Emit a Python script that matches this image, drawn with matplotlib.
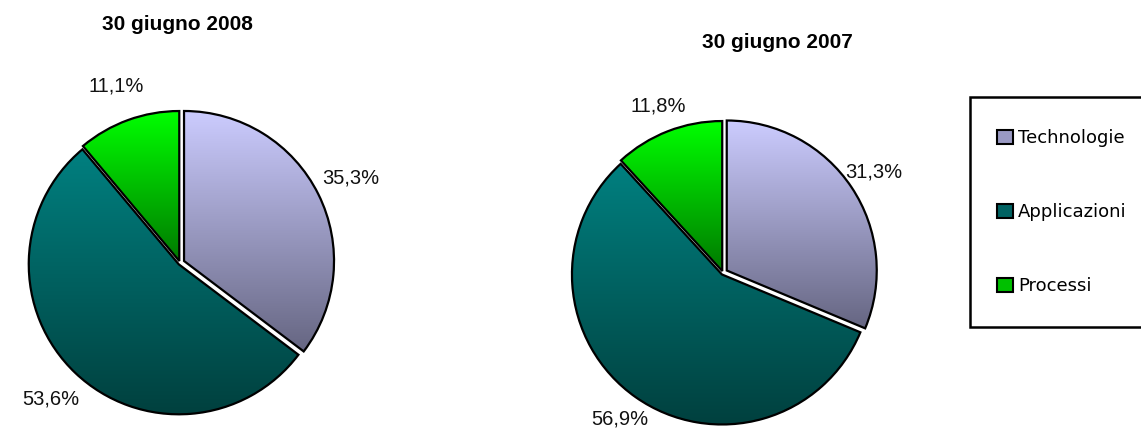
import numpy as np
import matplotlib
matplotlib.use("Agg")
import matplotlib.pyplot as plt
from matplotlib.colors import LinearSegmentedColormap
from matplotlib.patches import Patch, Rectangle

categories = ["Technologie", "Applicazioni", "Processi"]
values_2008 = [35.3, 53.6, 11.1]
values_2007 = [31.3, 56.9, 11.8]
titles = ["30 giugno 2008", "30 giugno 2007"]

# top / bottom colours of each slice gradient
top_colors = ["#ccccff", "#008080", "#00ff00"]
bottom_colors = ["#666682", "#00403e", "#007a00"]
legend_colors = ["#9a9ac4", "#006262", "#00c000"]

W, H = 1141, 430
plt.rcParams["font.family"] = ["Liberation Sans", "DejaVu Sans"]


def fmt(p):
    return f"{p:.1f}%".replace(".", ",")


def gradient_pie(ax, values, pctdist):
    wedges, texts, autotexts = ax.pie(
        values, startangle=90, counterclock=False, radius=1.0,
        explode=[0.03, 0.012, 0.014], autopct=fmt, pctdistance=pctdist,
        wedgeprops=dict(facecolor="none", edgecolor="black", linewidth=1.6),
        textprops=dict(fontsize=14.5, color="#111111"))
    grad = np.linspace(1, 0, 256).reshape(-1, 1)
    for w, c1, c2 in zip(wedges, top_colors, bottom_colors):
        verts = w.get_path().vertices
        x0, y0 = verts.min(axis=0)
        x1, y1 = verts.max(axis=0)
        cmap = LinearSegmentedColormap.from_list("g", [c2, c1])
        im = ax.imshow(grad, cmap=cmap, extent=(x0, x1, y0, y1),
                       aspect="auto", zorder=0.5, interpolation="bilinear")
        im.set_clip_path(w)
        w.set_zorder(2)
    ax.set_xlim(-1.1, 1.1)
    ax.set_ylim(-1.1, 1.1)
    ax.set_aspect("equal")
    ax.axis("off")


fig = plt.figure(figsize=(W / 100, H / 100), dpi=100)

# pie radius 150 px, axes 330 px square
centers = [(180, 263), (723, 273)]
for (cx, cy), vals, pd_ in zip(centers, [values_2008, values_2007], [1.24, 1.18]):
    ax = fig.add_axes([(cx - 165) / W, (H - cy - 165) / H, 330 / W, 330 / H])
    gradient_pie(ax, vals, pd_)

fig.text(177 / W, 1 - 25 / H, titles[0], ha="center", va="center",
         fontsize=15, fontweight="bold")
fig.text(777 / W, 1 - 42 / H, titles[1], ha="center", va="center",
         fontsize=15, fontweight="bold")

# legend box
fig.patches.append(Rectangle((970 / W, (H - 327) / H), 200 / W, 230 / H,
                             transform=fig.transFigure, facecolor="white",
                             edgecolor="black", linewidth=1.8, clip_on=False))
handles = [Patch(facecolor=c, edgecolor="black", linewidth=1.5) for c in legend_colors]
fig.legend(handles, categories, loc="upper left",
           bbox_to_anchor=(990 / W, 1 - 122 / H), frameon=False,
           prop=dict(family="DejaVu Sans", size=13), labelspacing=3.1,
           handlelength=0.85, handleheight=0.85, handletextpad=0.3,
           borderaxespad=0)

fig.savefig("out.png", dpi=100)
